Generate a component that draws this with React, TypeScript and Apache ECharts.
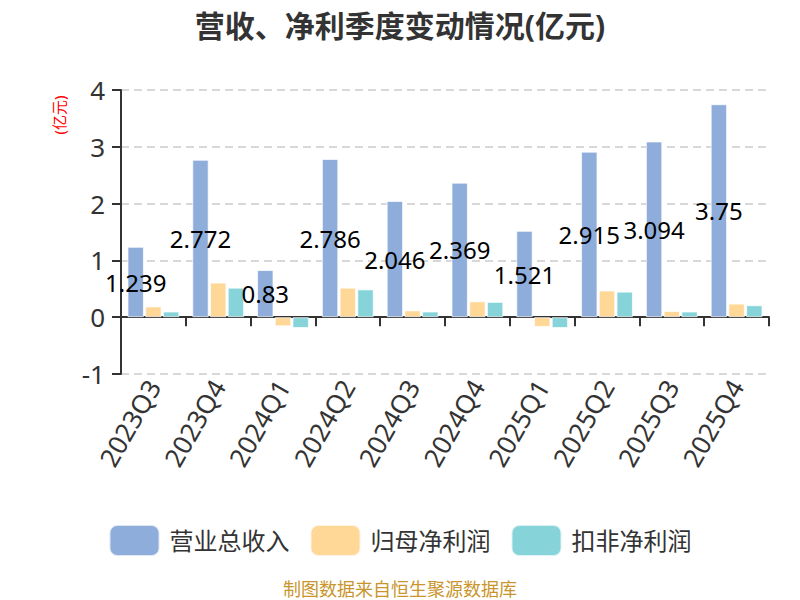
import React, { useEffect, useRef } from "react";
import * as echarts from "echarts";

const quarters = ["2023Q3", "2023Q4", "2024Q1", "2024Q2", "2024Q3", "2024Q4", "2025Q1", "2025Q2", "2025Q3", "2025Q4"];
const revenue = [1.239, 2.772, 0.83, 2.786, 2.046, 2.369, 1.521, 2.915, 3.094, 3.75];
const netProfit = [0.19, 0.61, -0.16, 0.52, 0.12, 0.28, -0.17, 0.47, 0.11, 0.24];
const deductedProfit = [0.1, 0.52, -0.19, 0.49, 0.1, 0.27, -0.19, 0.45, 0.1, 0.21];
const seriesNames = ["营业总收入", "归母净利润", "扣非净利润"];
const colors = ["#8eaddb", "#ffd796", "#86d4d9"];

const font = '"Noto Sans", "Noto Sans CJK SC", sans-serif';

const App = () => {
    const chartRef = useRef<HTMLDivElement>(null);

    useEffect(() => {
        document.body.style.margin = "0";
        if (!chartRef.current) return;
        const chart = echarts.init(chartRef.current, null, { renderer: "svg" });

        const barStyle = (i: number) => ({
            color: colors[i],
            borderColor: "rgba(255,255,255,0.7)",
            borderWidth: 1,
        });

        const options = {
            animation: false,
            textStyle: { fontFamily: font },
            title: {
                text: "营收、净利季度变动情况(亿元)",
                left: "center",
                top: 5,
                textStyle: { fontSize: 30, fontWeight: "bold", color: "#333", fontFamily: font },
            },
            legend: {
                data: seriesNames,
                left: "center",
                top: 519,
                itemWidth: 50,
                itemHeight: 31,
                itemGap: 20,
                icon: "roundRect",
                textStyle: { fontSize: 24, color: "#333", padding: [0, 0, 0, 5], fontFamily: font },
            },
            grid: { left: 121, right: 31, top: 90, bottom: 226 },
            xAxis: [
                {
                    type: "category",
                    data: quarters,
                    position: "bottom",
                    axisLine: { onZero: true, lineStyle: { color: "#333", width: 2 } },
                    axisTick: { show: true, length: 9, lineStyle: { color: "#333", width: 2 } },
                    axisLabel: { show: false },
                },
                {
                    type: "category",
                    data: quarters,
                    position: "bottom",
                    axisLine: { show: false, onZero: false },
                    axisTick: { show: false },
                    axisLabel: { rotate: 60, fontSize: 26, color: "#333", margin: 8, fontFamily: font },
                },
            ],
            yAxis: {
                type: "value",
                min: -1,
                max: 4,
                interval: 1,
                axisLine: { show: true, lineStyle: { color: "#333", width: 2 } },
                axisTick: { show: true, length: 9, lineStyle: { color: "#333", width: 2 } },
                axisLabel: { fontSize: 26, color: "#333", margin: 16, fontFamily: font },
                splitLine: { lineStyle: { color: "#ccc", width: 1.5, type: [8, 5] } },
            },
            graphic: [
                {
                    type: "text",
                    x: 59,
                    y: 115,
                    rotation: Math.PI / 2,
                    style: {
                        text: "(亿元)",
                        fill: "#ff0000",
                        fontSize: 15,
                        fontFamily: font,
                        align: "center",
                        verticalAlign: "middle",
                    },
                },
                {
                    type: "text",
                    left: "center",
                    top: 580,
                    style: {
                        text: "制图数据来自恒生聚源数据库",
                        fill: "#c9952c",
                        fontSize: 18,
                        fontFamily: font,
                    },
                },
            ],
            series: [
                {
                    name: seriesNames[0],
                    type: "bar",
                    data: revenue,
                    barGap: "8%",
                    barCategoryGap: "20%",
                    itemStyle: barStyle(0),
                    label: { show: true, position: "inside", color: "#000", fontSize: 24, fontFamily: font },
                },
                {
                    name: seriesNames[1],
                    type: "bar",
                    data: netProfit,
                    barGap: "8%",
                    barCategoryGap: "20%",
                    itemStyle: barStyle(1),
                },
                {
                    name: seriesNames[2],
                    type: "bar",
                    data: deductedProfit,
                    barGap: "8%",
                    barCategoryGap: "20%",
                    itemStyle: barStyle(2),
                },
            ],
        };

        chart.setOption(options);
        return () => chart.dispose();
    }, []);

    return <div ref={chartRef} style={{ width: "800px", height: "600px" }} />;
};

export default App;
